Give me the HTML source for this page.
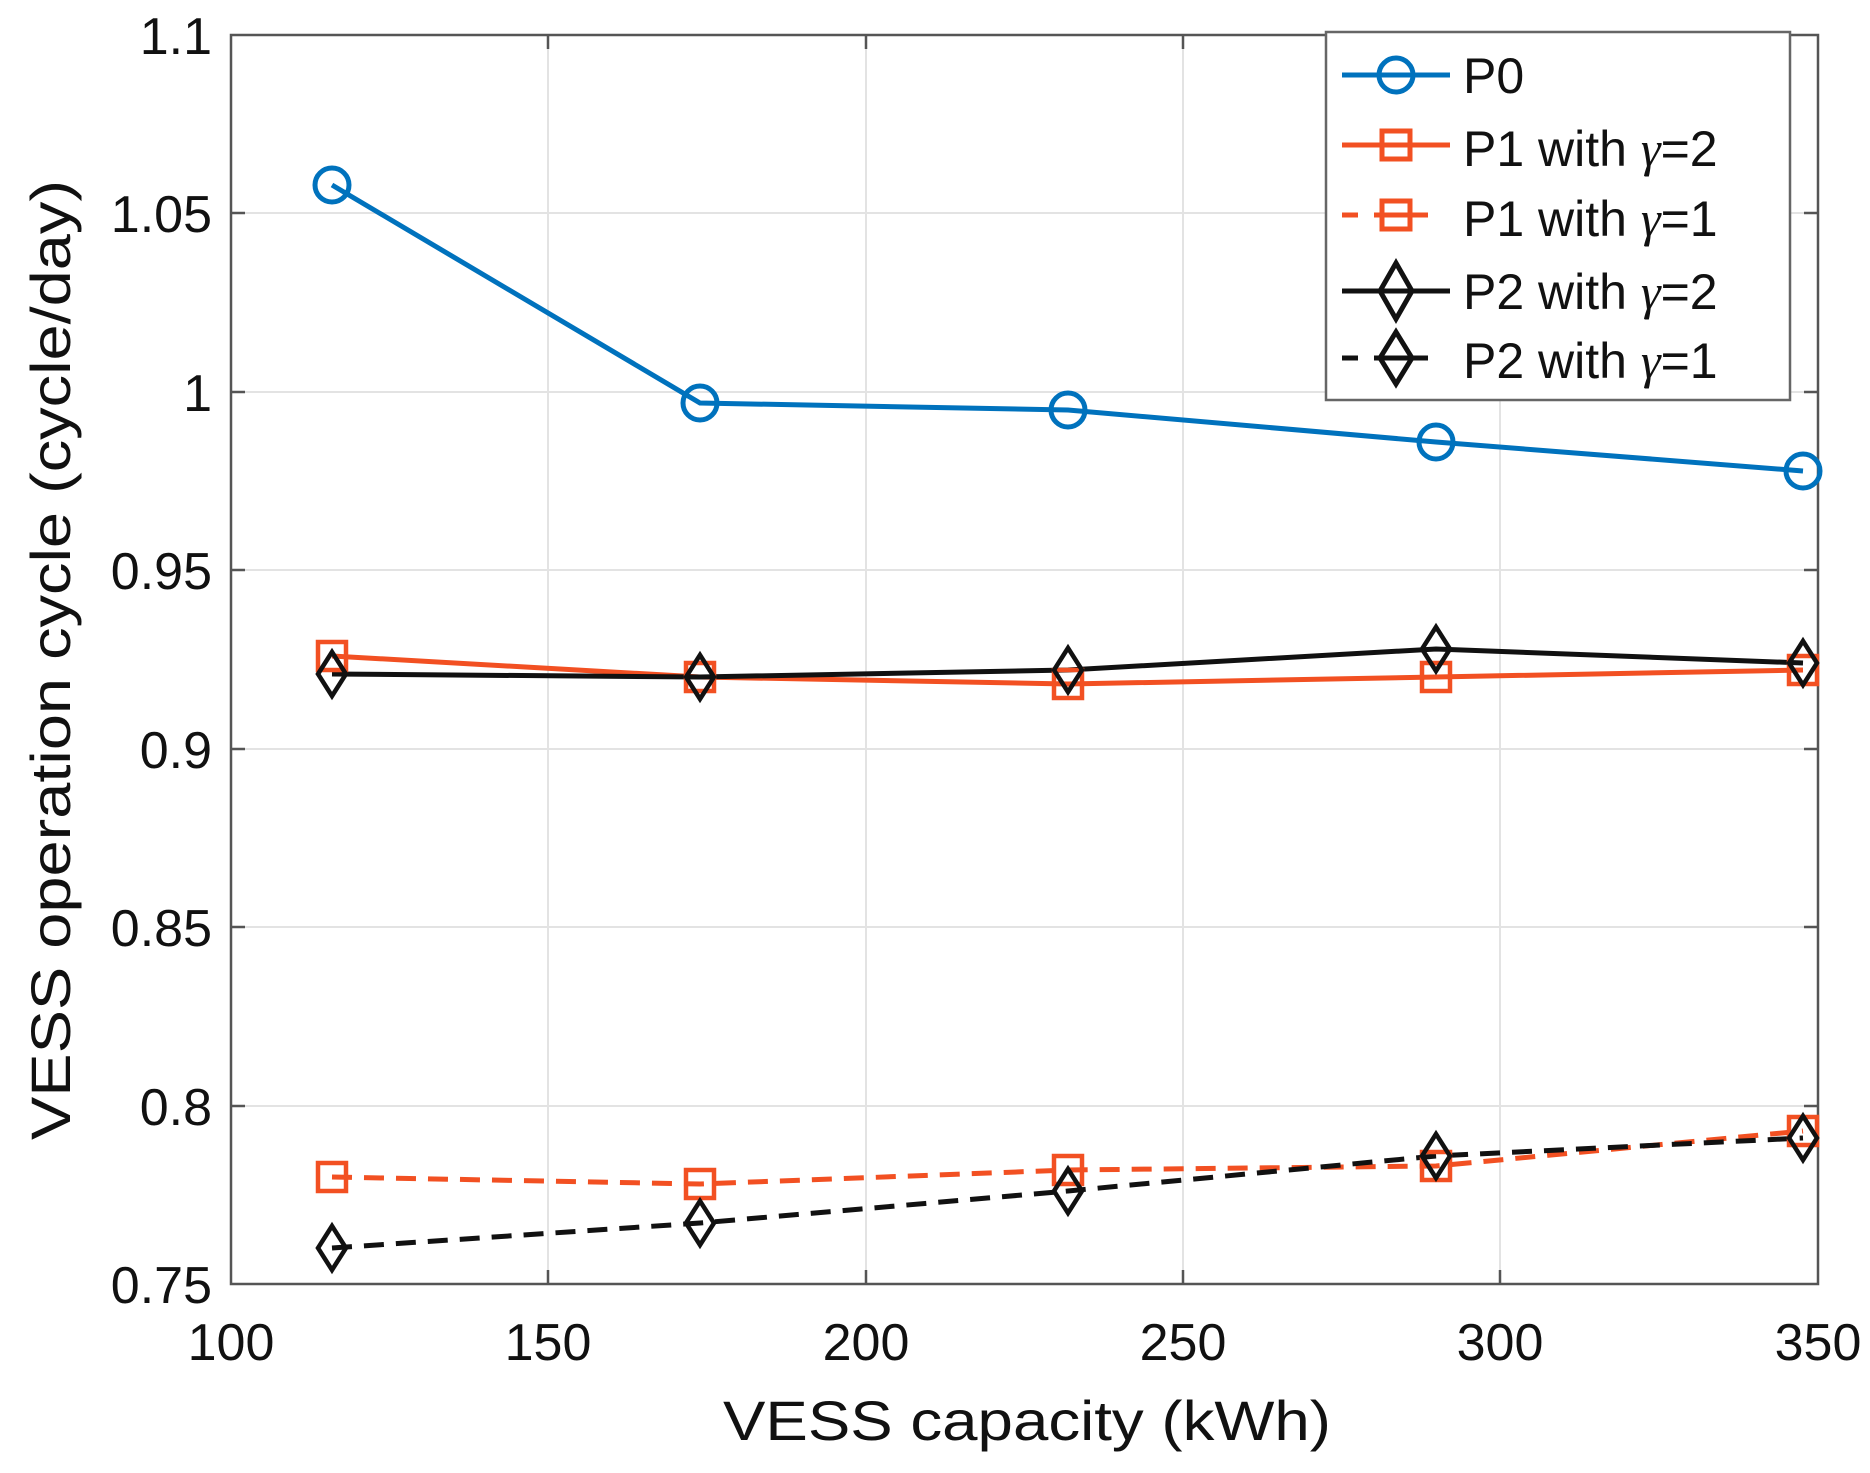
<!DOCTYPE html>
<html><head><style>body{margin:0;background:#fff}svg{display:block}text{font-family:"Liberation Sans",sans-serif;fill:#111}</style></head><body>
<svg width="1870" height="1473" xmlns="http://www.w3.org/2000/svg">
<g stroke="#e3e3e3" stroke-width="2">
<line x1="548" y1="35" x2="548" y2="1284"/><line x1="866" y1="35" x2="866" y2="1284"/><line x1="1183" y1="35" x2="1183" y2="1284"/><line x1="1500" y1="35" x2="1500" y2="1284"/>
<line x1="231" y1="213" x2="1818" y2="213"/><line x1="231" y1="392" x2="1818" y2="392"/><line x1="231" y1="570" x2="1818" y2="570"/><line x1="231" y1="749" x2="1818" y2="749"/><line x1="231" y1="927" x2="1818" y2="927"/><line x1="231" y1="1106" x2="1818" y2="1106"/>
</g>
<rect x="231" y="35" width="1587" height="1249" fill="none" stroke="#555" stroke-width="2.5"/>
<g stroke="#555" stroke-width="2.5">
<line x1="548" y1="1284" x2="548" y2="1270"/><line x1="866" y1="1284" x2="866" y2="1270"/><line x1="1183" y1="1284" x2="1183" y2="1270"/><line x1="1500" y1="1284" x2="1500" y2="1270"/>
<line x1="548" y1="35" x2="548" y2="49"/><line x1="866" y1="35" x2="866" y2="49"/><line x1="1183" y1="35" x2="1183" y2="49"/><line x1="1500" y1="35" x2="1500" y2="49"/>
<line x1="231" y1="213" x2="245" y2="213"/><line x1="231" y1="392" x2="245" y2="392"/><line x1="231" y1="570" x2="245" y2="570"/><line x1="231" y1="749" x2="245" y2="749"/><line x1="231" y1="927" x2="245" y2="927"/><line x1="231" y1="1106" x2="245" y2="1106"/>
<line x1="1818" y1="213" x2="1804" y2="213"/><line x1="1818" y1="392" x2="1804" y2="392"/><line x1="1818" y1="570" x2="1804" y2="570"/><line x1="1818" y1="749" x2="1804" y2="749"/><line x1="1818" y1="927" x2="1804" y2="927"/><line x1="1818" y1="1106" x2="1804" y2="1106"/>
</g>
<g font-size="52" text-anchor="middle">
<text x="231" y="1360">100</text><text x="548" y="1360">150</text><text x="866" y="1360">200</text><text x="1183" y="1360">250</text><text x="1500" y="1360">300</text><text x="1818" y="1360">350</text>
</g>
<g font-size="52" text-anchor="end">
<text x="212" y="54">1.1</text><text x="212" y="232">1.05</text><text x="212" y="411">1</text><text x="212" y="589">0.95</text><text x="212" y="768">0.9</text><text x="212" y="946">0.85</text><text x="212" y="1125">0.8</text><text x="212" y="1303">0.75</text>
</g>
<text x="1027" y="1440" font-size="56" text-anchor="middle" textLength="608" lengthAdjust="spacingAndGlyphs">VESS capacity (kWh)</text>
<text transform="translate(70,660) rotate(-90)" font-size="56" text-anchor="middle" textLength="960" lengthAdjust="spacingAndGlyphs">VESS operation cycle (cycle/day)</text>
<g fill="none" stroke-width="5">
<polyline stroke="#f25022" stroke-dasharray="20,12" points="332,1177 700,1184 1068,1170 1436,1166 1803,1131"/>
<polyline stroke="#111" stroke-dasharray="20,12" points="332,1248 700,1223 1068,1191 1436,1156 1803,1138"/>
<polyline stroke="#f25022" points="332,656 700,677 1068,684 1436,677 1803,670"/>
<polyline stroke="#111" points="332,674 700,677 1068,670 1436,649 1803,663"/>
<polyline stroke="#0072bd" points="332,185 700,403 1068,410 1436,442 1803,471"/>
</g>
<g fill="none" stroke="#f25022" stroke-width="4.5">
<rect x="318" y="1163" width="28" height="28"/><rect x="686" y="1170" width="28" height="28"/><rect x="1054" y="1156" width="28" height="28"/><rect x="1422" y="1152" width="28" height="28"/><rect x="1789" y="1117" width="28" height="28"/>
<rect x="318" y="642" width="28" height="28"/><rect x="686" y="663" width="28" height="28"/><rect x="1054" y="670" width="28" height="28"/><rect x="1422" y="663" width="28" height="28"/><rect x="1789" y="656" width="28" height="28"/>
</g>
<g fill="none" stroke="#111" stroke-width="4.5">
<path d="M332,1226 l14,22 l-14,22 l-14,-22z M700,1201 l14,22 l-14,22 l-14,-22z M1068,1169 l14,22 l-14,22 l-14,-22z M1436,1134 l14,22 l-14,22 l-14,-22z M1803,1116 l14,22 l-14,22 l-14,-22z"/>
<path d="M332,652 l14,22 l-14,22 l-14,-22z M700,655 l14,22 l-14,22 l-14,-22z M1068,648 l14,22 l-14,22 l-14,-22z M1436,627 l14,22 l-14,22 l-14,-22z M1803,641 l14,22 l-14,22 l-14,-22z"/>
</g>
<g fill="none" stroke="#0072bd" stroke-width="5">
<circle cx="332" cy="185" r="17"/><circle cx="700" cy="403" r="17"/><circle cx="1068" cy="410" r="17"/><circle cx="1436" cy="442" r="17"/><circle cx="1803" cy="471" r="17"/>
</g>
<rect x="1326" y="32" width="464" height="368" fill="#fff" stroke="#666" stroke-width="2.5"/>
<g stroke-width="5" fill="none">
<line x1="1342" y1="75" x2="1450" y2="75" stroke="#0072bd"/><circle cx="1396" cy="75" r="17" stroke="#0072bd"/>
<line x1="1342" y1="145" x2="1450" y2="145" stroke="#f25022"/><rect x="1382" y="131" width="28" height="28" stroke="#f25022"/>
<path d="M1342,215 h16 M1374,215 h54" stroke="#f25022"/><rect x="1382" y="201" width="28" height="28" stroke="#f25022"/>
<line x1="1342" y1="291" x2="1450" y2="291" stroke="#111"/><path d="M1396,263 l16,28 l-16,28 l-16,-28z" stroke="#111"/>
<path d="M1342,358 h16 M1374,358 h54" stroke="#111"/><path d="M1396,332 l16,26 l-16,26 l-16,-26z" stroke="#111"/>
</g>
<g font-size="50">
<text x="1463" y="93">P0</text>
<text x="1463" y="166">P1 with <tspan font-family="Liberation Serif" font-style="italic">γ</tspan>=2</text>
<text x="1463" y="236">P1 with <tspan font-family="Liberation Serif" font-style="italic">γ</tspan>=1</text>
<text x="1463" y="309">P2 with <tspan font-family="Liberation Serif" font-style="italic">γ</tspan>=2</text>
<text x="1463" y="378">P2 with <tspan font-family="Liberation Serif" font-style="italic">γ</tspan>=1</text>
</g>
</svg>
</body></html>
